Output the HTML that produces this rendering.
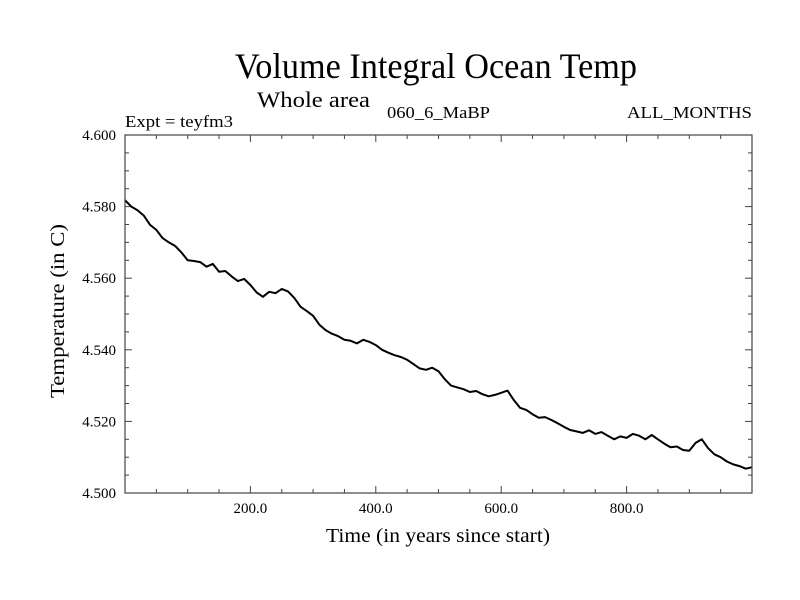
<!DOCTYPE html>
<html><head><meta charset="utf-8"><style>
html,body{margin:0;padding:0;background:#fff;}
svg{display:block;font-family:"Liberation Serif",serif;}
</style></head><body>
<svg id="chart" width="800" height="600" viewBox="0 0 800 600" xmlns="http://www.w3.org/2000/svg">
<rect width="800" height="600" fill="#fff"/>
<text x="235" y="78" font-size="36" textLength="402" lengthAdjust="spacingAndGlyphs">Volume Integral Ocean Temp</text>
<text x="257" y="107" font-size="22" textLength="113" lengthAdjust="spacingAndGlyphs">Whole area</text>
<text x="125" y="127" font-size="17" textLength="108" lengthAdjust="spacingAndGlyphs">Expt = teyfm3</text>
<text x="387" y="118" font-size="17" textLength="103" lengthAdjust="spacingAndGlyphs">060_6_MaBP</text>
<text x="627" y="118" font-size="17" textLength="125" lengthAdjust="spacingAndGlyphs">ALL_MONTHS</text>
<text x="326" y="542" font-size="20" textLength="224" lengthAdjust="spacingAndGlyphs">Time (in years since start)</text>
<text transform="translate(64,398) rotate(-90)" font-size="20" textLength="174" lengthAdjust="spacingAndGlyphs">Temperature (in C)</text>
<g id="axes"></g>
<path id="series" fill="none" stroke="#000" stroke-width="2" stroke-linejoin="round"/>
<rect x="125" y="135" width="627" height="358" fill="none" stroke="#444" stroke-width="1.2"/>
</svg>
<script>
const years = [0,10,20,30,40,50,60,70,80,90,100,110,120,130,140,150,160,170,180,190,200,210,220,230,240,250,260,270,280,290,300,310,320,330,340,350,360,370,380,390,400,410,420,430,440,450,460,470,480,490,500,510,520,530,540,550,560,570,580,590,600,610,620,630,640,650,660,670,680,690,700,710,720,730,740,750,760,770,780,790,800,810,820,830,840,850,860,870,880,890,900,910,920,930,940,950,960,970,980,990,1000];
const temps = [4.5818,4.5800,4.5790,4.5775,4.5749,4.5735,4.5712,4.5700,4.5690,4.5672,4.5650,4.5648,4.5645,4.5632,4.5640,4.5618,4.5620,4.5605,4.5592,4.5598,4.5581,4.5560,4.5548,4.5562,4.5558,4.5570,4.5563,4.5545,4.5520,4.5508,4.5495,4.5470,4.5455,4.5445,4.5438,4.5428,4.5425,4.5418,4.5428,4.5422,4.5413,4.5400,4.5392,4.5385,4.5380,4.5372,4.5360,4.5348,4.5344,4.5350,4.5340,4.5318,4.5300,4.5295,4.5290,4.5282,4.5285,4.5276,4.5270,4.5274,4.5280,4.5286,4.5260,4.5238,4.5232,4.5220,4.5210,4.5212,4.5204,4.5195,4.5185,4.5176,4.5172,4.5168,4.5175,4.5165,4.5170,4.5160,4.5150,4.5158,4.5154,4.5165,4.5160,4.5150,4.5162,4.5150,4.5138,4.5128,4.5130,4.5120,4.5118,4.5140,4.5150,4.5125,4.5108,4.5100,4.5088,4.5080,4.5075,4.5068,4.5072];
const xTickLabels = ["200.0","400.0","600.0","800.0"];
const xTickValues = [200,400,600,800];
const yTickLabels = ["4.500","4.520","4.540","4.560","4.580","4.600"];
const yTickValues = [4.50,4.52,4.54,4.56,4.58,4.60];

const X0=125,X1=752,Y0=493,Y1=135;
const xs = v => X0 + (v-0)/(1000-0)*(X1-X0);
const ys = v => Y0 - (v-4.5)/(0.1)*(Y0-Y1);
const NS="http://www.w3.org/2000/svg";
const axes=document.getElementById('axes');
function line(x1,y1,x2,y2){const l=document.createElementNS(NS,'line');l.setAttribute('x1',x1);l.setAttribute('y1',y1);l.setAttribute('x2',x2);l.setAttribute('y2',y2);l.setAttribute('stroke','#444');l.setAttribute('stroke-width','1');axes.appendChild(l);return l;}
// minor/major x ticks (every 50 years), top and bottom
for(let v=50;v<1000;v+=50){const big=v%200===0;const L=big?7:4;
 let t=line(xs(v),Y0,xs(v),Y0-L);
 
 
 t=line(xs(v),Y1,xs(v),Y1+L);
 
 }
// y ticks every 0.005, left and right
for(let i=1;i<20;i++){const v=4.5+i*0.005;const big=i%4===0;const L=big?7:4;
 let t=line(X0,ys(v),X0+L,ys(v));
 
 
 t=line(X1,ys(v),X1-L,ys(v));
 
 }
xTickValues.forEach((v,i)=>{const t=document.createElementNS(NS,'text');t.setAttribute('x',xs(v));t.setAttribute('y',513);t.setAttribute('text-anchor','middle');t.setAttribute('font-size','15');t.textContent=xTickLabels[i];
 
 
 axes.appendChild(t);});
yTickValues.forEach((v,i)=>{const t=document.createElementNS(NS,'text');t.setAttribute('x',116);t.setAttribute('y',ys(v)+5);t.setAttribute('text-anchor','end');t.setAttribute('font-size','15');t.textContent=yTickLabels[i];
 
 
 axes.appendChild(t);});
document.getElementById('series').setAttribute('d',years.map((y,i)=>(i?'L':'M')+xs(y).toFixed(1)+','+ys(temps[i]).toFixed(1)).join(''));
</script>
</body></html>
